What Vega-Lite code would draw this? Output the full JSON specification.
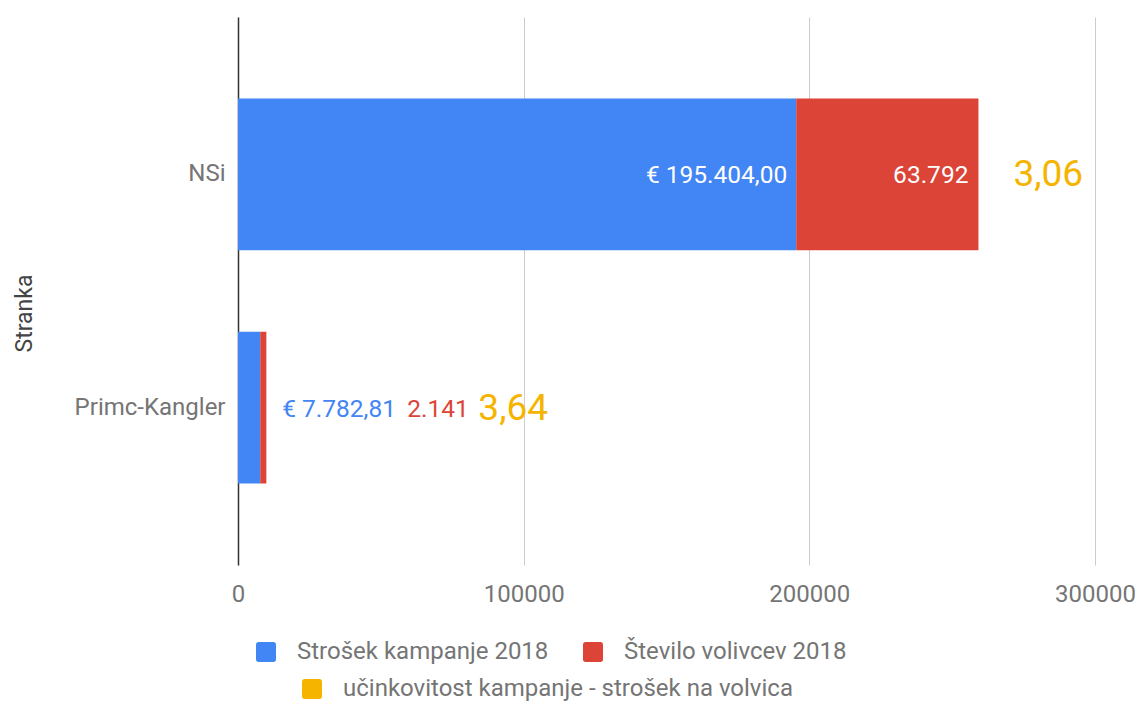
{
  "$schema": "https://vega.github.io/schema/vega-lite/v6.json",
  "width": 857,
  "height": 548,
  "autosize": {"type": "none"},
  "padding": {"left": 238, "top": 17, "right": 44, "bottom": 137},
  "config": {
    "view": {"stroke": null},
    "font": "Roboto",
    "locale": {"number": {"decimal": ",", "thousands": ".", "grouping": [3], "currency": ["€ ", ""]}},
    "legend": {
      "symbolType": "M-0.75,-1H0.75A0.25,0.25 0 0 1 1,-0.75V0.75A0.25,0.25 0 0 1 0.75,1H-0.75A0.25,0.25 0 0 1 -1,0.75V-0.75A0.25,0.25 0 0 1 -0.75,-1Z",
      "symbolSize": 400,
      "symbolStrokeWidth": 0,
      "symbolOpacity": 1,
      "labelFontSize": 24,
      "labelColor": "#757575",
      "labelFont": "Roboto",
      "labelOffset": 19,
      "labelLimit": 800,
      "columnPadding": 32,
      "padding": 0
    }
  },
  "data": {
    "values": [
      {"party": "NSi", "series": "Strošek kampanje 2018", "value": 195404, "k": 1},
      {"party": "NSi", "series": "Število volivcev 2018", "value": 63792, "k": 2},
      {"party": "NSi", "series": "učinkovitost kampanje - strošek na volvica", "value": 3.06, "k": 3},
      {"party": "Primc-Kangler", "series": "Strošek kampanje 2018", "value": 7782.81, "k": 1},
      {"party": "Primc-Kangler", "series": "Število volivcev 2018", "value": 2141, "k": 2},
      {"party": "Primc-Kangler", "series": "učinkovitost kampanje - strošek na volvica", "value": 3.64, "k": 3}
    ]
  },
  "transform": [
    {"stack": "value", "groupby": ["party"], "sort": [{"field": "k", "order": "ascending"}], "as": ["v0", "v1"]}
  ],
  "encoding": {
    "y": {
      "field": "party",
      "type": "nominal",
      "sort": ["NSi", "Primc-Kangler"],
      "scale": {"paddingInner": 0.35, "paddingOuter": 0.35},
      "axis": {
        "title": "Stranka",
        "titleFontSize": 23,
        "titleFontWeight": "normal",
        "titleColor": "#444",
        "titleFont": "Roboto",
        "titlePadding": 38,
        "titleY": 296,
        "labelFontSize": 24,
        "labelColor": "#757575",
        "labelFont": "Roboto",
        "labelPadding": 13,
        "ticks": false,
        "grid": false,
        "domainColor": "#333",
        "domainWidth": 1.5
      }
    }
  },
  "layer": [
    {
      "transform": [{"filter": "datum.k < 3"}],
      "mark": {"type": "bar"},
      "encoding": {
        "x": {
          "field": "v0",
          "type": "quantitative",
          "scale": {"domain": [0, 300000], "nice": false},
          "axis": {
            "title": null,
            "values": [0, 100000, 200000, 300000],
            "format": "d",
            "grid": true,
            "gridColor": "#cccccc",
            "domain": false,
            "ticks": false,
            "labelFlush": false,
            "labelFontSize": 24,
            "labelColor": "#757575",
            "labelFont": "Roboto",
            "labelPadding": 17
          }
        },
        "x2": {"field": "v1"},
        "color": {
          "field": "series",
          "type": "nominal",
          "scale": {"domain": ["Strošek kampanje 2018", "Število volivcev 2018"], "range": ["#4285F4", "#DB4437"]},
          "legend": {"title": null, "orient": "none", "direction": "horizontal", "legendX": 16, "legendY": 623}
        }
      }
    },
    {
      "transform": [{"filter": "datum.k == 3"}],
      "mark": {"type": "bar"},
      "encoding": {
        "x": {"field": "v0", "type": "quantitative"},
        "x2": {"field": "v1"},
        "fill": {
          "field": "series",
          "type": "nominal",
          "scale": {"domain": ["učinkovitost kampanje - strošek na volvica"], "range": ["#F4B400"]},
          "legend": {"title": null, "orient": "none", "direction": "horizontal", "legendX": 62, "legendY": 660}
        }
      }
    },
    {
      "transform": [{"filter": "datum.party == 'NSi' && datum.k == 1"}],
      "mark": {"type": "text", "align": "right", "baseline": "middle", "dx": -9, "dy": 2, "fontSize": 24.5, "color": "white", "font": "Roboto"},
      "encoding": {"x": {"field": "v1", "type": "quantitative"}, "text": {"field": "value", "type": "quantitative", "format": "$,.2f"}}
    },
    {
      "transform": [{"filter": "datum.party == 'NSi' && datum.k == 2"}],
      "mark": {"type": "text", "align": "right", "baseline": "middle", "dx": -10, "dy": 2, "fontSize": 24.5, "color": "white", "font": "Roboto"},
      "encoding": {"x": {"field": "v1", "type": "quantitative"}, "text": {"field": "value", "type": "quantitative", "format": ",.0f"}}
    },
    {
      "transform": [{"filter": "datum.party == 'NSi' && datum.k == 3"}],
      "mark": {"type": "text", "align": "left", "baseline": "middle", "dx": 35, "dy": 1, "fontSize": 37, "color": "#F4B400", "font": "Roboto"},
      "encoding": {"x": {"field": "v1", "type": "quantitative"}, "text": {"field": "value", "type": "quantitative", "format": ".2f"}}
    },
    {
      "transform": [{"filter": "datum.party == 'Primc-Kangler' && datum.k == 1"}],
      "mark": {"type": "text", "align": "left", "baseline": "middle", "dx": 22, "dy": 2, "fontSize": 24.5, "color": "#4285F4", "font": "Roboto"},
      "encoding": {"x": {"field": "v1", "type": "quantitative"}, "text": {"field": "value", "type": "quantitative", "format": "$,.2f"}}
    },
    {
      "transform": [{"filter": "datum.party == 'Primc-Kangler' && datum.k == 2"}],
      "mark": {"type": "text", "align": "left", "baseline": "middle", "dx": 141, "dy": 2, "fontSize": 24.5, "color": "#DB4437", "font": "Roboto"},
      "encoding": {"x": {"field": "v1", "type": "quantitative"}, "text": {"field": "value", "type": "quantitative", "format": ",.0f"}}
    },
    {
      "transform": [{"filter": "datum.party == 'Primc-Kangler' && datum.k == 3"}],
      "mark": {"type": "text", "align": "left", "baseline": "middle", "dx": 212, "dy": 1, "fontSize": 37, "color": "#F4B400", "font": "Roboto"},
      "encoding": {"x": {"field": "v1", "type": "quantitative"}, "text": {"field": "value", "type": "quantitative", "format": ".2f"}}
    }
  ]
}
